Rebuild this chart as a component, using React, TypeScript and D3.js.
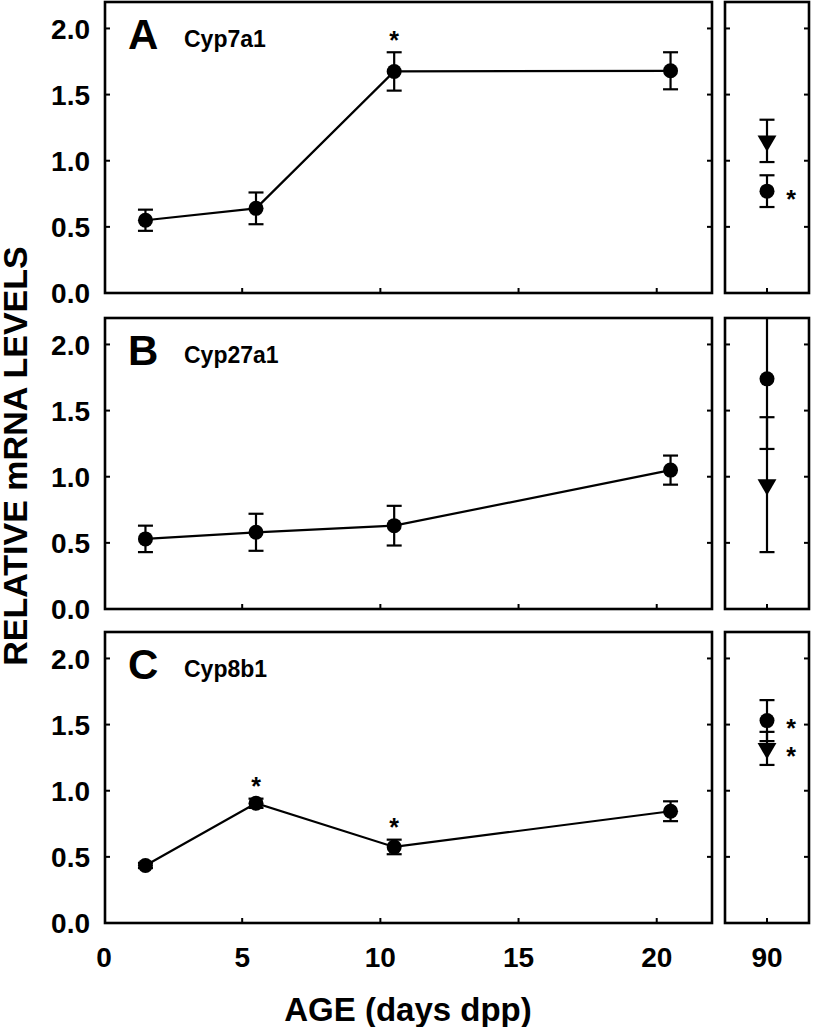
import React from "react";
import * as d3 from "d3";

// ---------- data ----------
const ageEarly = [1.5, 5.5, 10.5, 20.5];
const xTicks = [0, 5, 10, 15, 20];
const yTicks = [0, 0.5, 1.0, 1.5, 2.0];
const adultLabel = ["90"];

const panelLetters = ["A", "B", "C"];
const geneNames = ["Cyp7a1", "Cyp27a1", "Cyp8b1"];

const cyp7a1Mean = [0.55, 0.64, 1.675, 1.68];
const cyp7a1Err = [0.08, 0.12, 0.145, 0.14];
const cyp7a1Sig = [false, false, true, false];

const cyp27a1Mean = [0.53, 0.58, 0.63, 1.05];
const cyp27a1Err = [0.1, 0.14, 0.15, 0.11];
const cyp27a1Sig = [false, false, false, false];

const cyp8b1Mean = [0.435, 0.905, 0.575, 0.845];
const cyp8b1Err = [0.02, 0.035, 0.055, 0.075];
const cyp8b1Sig = [false, true, true, false];

// adult (90 dpp): circle and triangle groups
const adultCircleMean = [0.77, 1.74, 1.53];
const adultCircleErr = [0.12, 0.53, 0.155];
const adultCircleSig = [true, false, true];
const adultTriMean = [1.15, 0.94, 1.32];
const adultTriErr = [0.16, 0.51, 0.125];
const adultTriSig = [false, false, true];

const means = [cyp7a1Mean, cyp27a1Mean, cyp8b1Mean];
const errs = [cyp7a1Err, cyp27a1Err, cyp8b1Err];
const sigs = [cyp7a1Sig, cyp27a1Sig, cyp8b1Sig];

// ---------- layout ----------
const W = 813;
const H = 1027;
const leftX0 = 105;
const leftX1 = 712;
const rightX0 = 725;
const rightX1 = 809;
const panelTops = [2, 318, 632];
const panelH = 291;
const FONT = "'Liberation Sans', Arial, Helvetica, sans-serif";

const xScale = d3.scaleLinear().domain([0, 22]).range([leftX0 - 1, leftX1]);
const xAdult = d3.scalePoint().domain(adultLabel).range([rightX0, rightX1]).padding(0.5);

const tri = d3.symbol().type(d3.symbolTriangle).size(155);

function ErrBar({ x, y0, y1, cw = 7.5 }: { x: number; y0: number; y1: number; cw?: number }) {
  return (
    <g stroke="#000" strokeWidth={2.2}>
      <line x1={x} x2={x} y1={y0} y2={y1} />
      <line x1={x - cw} x2={x + cw} y1={y0} y2={y0} />
      <line x1={x - cw} x2={x + cw} y1={y1} y2={y1} />
    </g>
  );
}

function Star({ x, cy }: { x: number; cy: number }) {
  const fs = 25;
  return (
    <text x={x} y={cy + 0.58 * fs} textAnchor="middle" fontSize={fs} fontWeight="bold" fontFamily={FONT}>
      *
    </text>
  );
}

function Panel({ i }: { i: number }) {
  const top = panelTops[i];
  const bottom = top + panelH;
  const y = d3.scaleLinear().domain([0, 2.2]).range([bottom, top]);
  const m = means[i];
  const e = errs[i];
  const s = sigs[i];
  const line = d3
    .line<number>()
    .x((_, k) => xScale(ageEarly[k]))
    .y((d) => y(d));
  const ax = xAdult("90") as number;
  const clipId = `clip-r-${i}`;
  const tk = 5;
  return (
    <g>
      <defs>
        <clipPath id={clipId}>
          <rect x={rightX0} y={top} width={rightX1 - rightX0} height={panelH} />
        </clipPath>
      </defs>
      {/* ticks */}
      <g stroke="#000" strokeWidth={2}>
        {yTicks.slice(1).map((t) => (
          <g key={t}>
            <line x1={leftX0} x2={leftX0 + tk} y1={y(t)} y2={y(t)} />
            <line x1={leftX1} x2={leftX1 - tk} y1={y(t)} y2={y(t)} />
            <line x1={rightX0} x2={rightX0 + tk} y1={y(t)} y2={y(t)} />
            <line x1={rightX1} x2={rightX1 - tk} y1={y(t)} y2={y(t)} />
          </g>
        ))}
        {xTicks.slice(1).map((t) => (
          <line key={t} x1={xScale(t)} x2={xScale(t)} y1={bottom} y2={bottom - tk} />
        ))}
        <line x1={ax} x2={ax} y1={bottom} y2={bottom - tk} />
      </g>
      {/* y tick labels */}
      {yTicks.map((t) => (
        <text
          key={t}
          x={90}
          y={y(t)}
          dy="0.36em"
          textAnchor="end"
          fontSize={28}
          fontWeight="bold"
          fontFamily={FONT}
        >
          {t.toFixed(1)}
        </text>
      ))}
      {/* panel label */}
      <text x={128} y={top + 47} fontSize={42} fontWeight="bold" fontFamily={FONT}>
        {panelLetters[i]}
      </text>
      <text x={184} y={top + 45} fontSize={23} fontWeight="bold" fontFamily={FONT}>
        {geneNames[i]}
      </text>
      {/* series */}
      <path d={line(m) || ""} fill="none" stroke="#000" strokeWidth={2.2} />
      {m.map((v, k) => (
        <g key={k}>
          <ErrBar x={xScale(ageEarly[k])} y0={y(v + e[k])} y1={y(v - e[k])} />
          <circle cx={xScale(ageEarly[k])} cy={y(v)} r={7.5} fill="#000" />
          {s[k] && <Star x={xScale(ageEarly[k])} cy={y(v + e[k]) - 18} />}
        </g>
      ))}
      {/* adult */}
      <g clipPath={`url(#${clipId})`}>
        <ErrBar x={ax} y0={y(adultCircleMean[i] + adultCircleErr[i])} y1={y(adultCircleMean[i] - adultCircleErr[i])} />
        <ErrBar x={ax} y0={y(adultTriMean[i] + adultTriErr[i])} y1={y(adultTriMean[i] - adultTriErr[i])} />
        <circle cx={ax} cy={y(adultCircleMean[i])} r={7.5} fill="#000" />
        <path
          d={tri() || ""}
          transform={`translate(${ax},${y(adultTriMean[i])}) rotate(180)`}
          fill="#000"
        />
      </g>
      {adultCircleSig[i] && <Star x={ax + 24} cy={y(adultCircleMean[i]) + 2} />}
      {adultTriSig[i] && <Star x={ax + 24} cy={y(adultTriMean[i]) + 2} />}
      {/* frames */}
      <rect x={leftX0} y={top} width={leftX1 - leftX0} height={panelH} fill="none" stroke="#000" strokeWidth={2.6} />
      <rect x={rightX0} y={top} width={rightX1 - rightX0} height={panelH} fill="none" stroke="#000" strokeWidth={2.6} />
    </g>
  );
}

export default function App() {
  return (
    <svg
      width={W}
      height={H}
      style={{ position: "absolute", left: 0, top: 0, background: "#fff" }}
      xmlns="http://www.w3.org/2000/svg"
    >
      <rect width={W} height={H} fill="#fff" />
      {panelLetters.map((_, i) => (
        <Panel key={i} i={i} />
      ))}
      {/* x tick labels */}
      {xTicks.map((t) => (
        <text key={t} x={xScale(t)} y={967} textAnchor="middle" fontSize={28} fontWeight="bold" fontFamily={FONT}>
          {t}
        </text>
      ))}
      <text x={xAdult("90") as number} y={967} textAnchor="middle" fontSize={28} fontWeight="bold" fontFamily={FONT}>
        {adultLabel[0]}
      </text>
      <text x={408} y={1021} textAnchor="middle" fontSize={33} fontWeight="bold" fontFamily={FONT}>
        AGE (days dpp)
      </text>
      <text
        transform="translate(27,456) rotate(-90)"
        textAnchor="middle"
        fontSize={34}
        fontWeight="bold"
        fontFamily={FONT}
      >
        RELATIVE mRNA LEVELS
      </text>
    </svg>
  );
}
